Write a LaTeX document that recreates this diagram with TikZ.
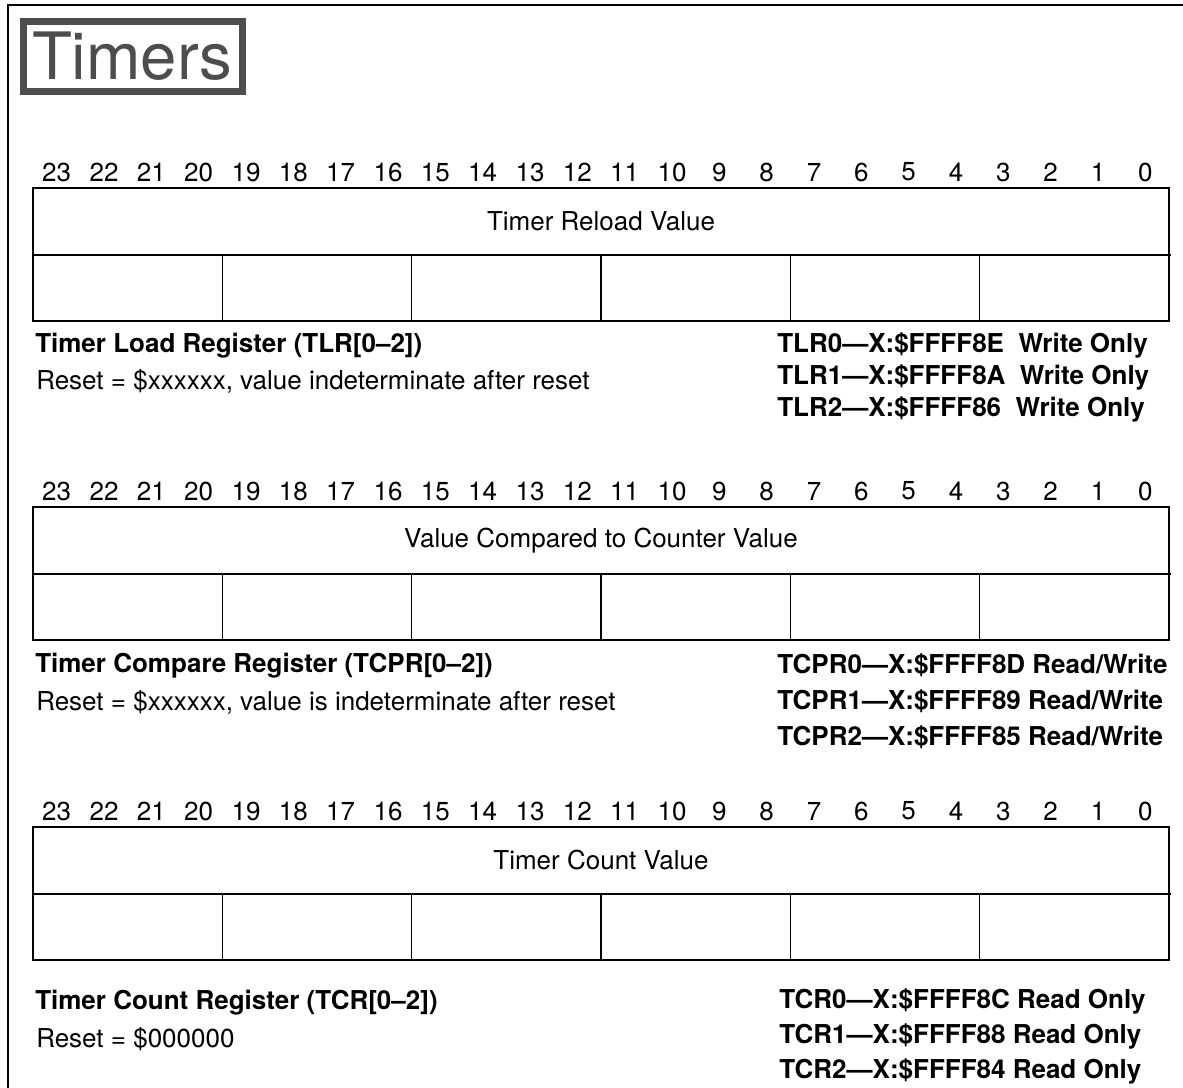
\documentclass[tikz,border=0pt]{standalone}
\usepackage{fontspec}
\setmainfont{TeX Gyre Heros}
\definecolor{titlegray}{HTML}{4D4D4D}
\tikzset{
  regline/.style={line width=1.1pt},
  leftlbl/.style={anchor=west},
  addrlbl/.style={anchor=west,font=\fontsize{19.5}{23}\selectfont\bfseries}
}
\begin{document}
\begin{tikzpicture}[x=0.75pt,y=-0.75pt,every node/.style={font=\fontsize{19.5}{23}\selectfont,inner sep=0pt}]
\useasboundingbox (0,0) rectangle (1183,1088);
% page frame, left and top
\draw[line width=1.6pt] (8,1088) -- (8,5) -- (1183,5);
% heading
\draw[titlegray,line width=5.2pt] (23.5,21.5) rectangle (242.5,91.5);
\node[text=titlegray,font=\fontsize{49}{49}\selectfont] (heading) at (132,56) {Timers};
% three registers: boxes, bit numbers, field names
\foreach \y/\name/\field in {188/tlr/Timer Reload Value,507/tcpr/Value Compared to Counter Value,827/tcr/Timer Count Value}{
  \draw[regline] (33,\y) rectangle (1169,\y+133);
  \draw[regline] (33,\y+67) -- (1171,\y+67);
  \foreach \c in {1,...,5}
    \draw[regline] ({33+189.333*\c},\y+67) -- ({33+189.333*\c},\y+133);
  \foreach \b in {0,...,23}
    \node (\name bit\b) at ({1169-47.333*(\b+0.5)},\y-16) {\b};
  \node (\name field) at (601,\y+33.5) {\field};
}
% labels under TLR
\node[leftlbl,font=\fontsize{19.5}{23}\selectfont\bfseries] (tlrtitle) at (35,346) {Timer Load Register (TLR[0--2])};
\node[leftlbl] (tlrreset) at (36,381) {Reset = \$xxxxxx, value indeterminate after reset};
\node[addrlbl] (tlr0) at (777,345) {TLR0---X:\$FFFF8E\ \ Write Only};
\node[addrlbl] (tlr1) at (777,377) {TLR1---X:\$FFFF8A\ \ Write Only};
\node[addrlbl] (tlr2) at (777,409) {TLR2---X:\$FFFF86\ \ Write Only};
% labels under TCPR
\node[leftlbl,font=\fontsize{19.5}{23}\selectfont\bfseries] (tcprtitle) at (35,666) {Timer Compare Register (TCPR[0--2])};
\node[leftlbl] (tcprreset) at (36,702) {Reset = \$xxxxxx, value is indeterminate after reset};
\node[addrlbl] (tcpr0) at (777,665) {TCPR0---X:\$FFFF8D Read/Write};
\node[addrlbl] (tcpr1) at (777,701) {TCPR1---X:\$FFFF89 Read/Write};
\node[addrlbl] (tcpr2) at (777,737) {TCPR2---X:\$FFFF85 Read/Write};
% labels under TCR
\node[leftlbl,font=\fontsize{19.5}{23}\selectfont\bfseries] (tcrtitle) at (35,1003) {Timer Count Register (TCR[0--2])};
\node[leftlbl] (tcrreset) at (36,1039) {Reset = \$000000};
\node[addrlbl] (tcr0) at (779,1001) {TCR0---X:\$FFFF8C Read Only};
\node[addrlbl] (tcr1) at (779,1036) {TCR1---X:\$FFFF88 Read Only};
\node[addrlbl] (tcr2) at (779,1071) {TCR2---X:\$FFFF84 Read Only};
\end{tikzpicture}
\end{document}
